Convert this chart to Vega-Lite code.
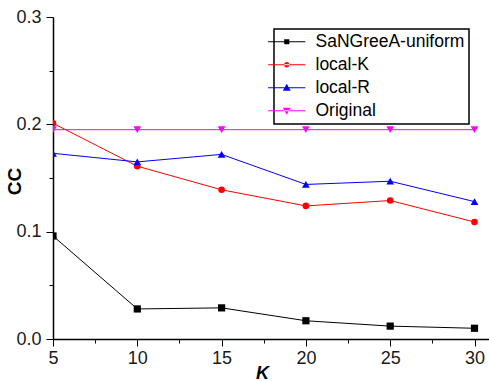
{
  "$schema": "https://vega.github.io/schema/vega-lite/v6.json",
  "width": 436,
  "height": 322,
  "autosize": "none",
  "padding": {"left": 53, "top": 17, "right": 0, "bottom": 43},
  "background": "white",
  "config": {"view": {"stroke": null}, "font": "Liberation Sans"},
  "data": {
    "values": [
      {"series": "SaNGreeA-uniform", "k": 5, "cc": 0.096},
      {"series": "SaNGreeA-uniform", "k": 10, "cc": 0.028},
      {"series": "SaNGreeA-uniform", "k": 15, "cc": 0.029},
      {"series": "SaNGreeA-uniform", "k": 20, "cc": 0.017},
      {"series": "SaNGreeA-uniform", "k": 25, "cc": 0.012},
      {"series": "SaNGreeA-uniform", "k": 30, "cc": 0.010},
      {"series": "local-K", "k": 5, "cc": 0.201},
      {"series": "local-K", "k": 10, "cc": 0.161},
      {"series": "local-K", "k": 15, "cc": 0.139},
      {"series": "local-K", "k": 20, "cc": 0.124},
      {"series": "local-K", "k": 25, "cc": 0.129},
      {"series": "local-K", "k": 30, "cc": 0.109},
      {"series": "local-R", "k": 5, "cc": 0.173},
      {"series": "local-R", "k": 10, "cc": 0.165},
      {"series": "local-R", "k": 15, "cc": 0.172},
      {"series": "local-R", "k": 20, "cc": 0.144},
      {"series": "local-R", "k": 25, "cc": 0.147},
      {"series": "local-R", "k": 30, "cc": 0.128},
      {"series": "Original", "k": 5, "cc": 0.195},
      {"series": "Original", "k": 10, "cc": 0.195},
      {"series": "Original", "k": 15, "cc": 0.195},
      {"series": "Original", "k": 20, "cc": 0.195},
      {"series": "Original", "k": 25, "cc": 0.195},
      {"series": "Original", "k": 30, "cc": 0.195}
    ]
  },
  "encoding": {
    "x": {
      "field": "k",
      "type": "quantitative",
      "scale": {"domain": [5, 30.86], "nice": false, "zero": false},
      "axis": {
        "values": [5, 7.5, 10, 12.5, 15, 17.5, 20, 22.5, 25, 27.5, 30],
        "labelExpr": "datum.value % 5 == 0 ? datum.label : ''",
        "tickSize": {"condition": {"test": "datum.value % 5 == 0", "value": 7}, "value": 4},
        "grid": false,
        "domainColor": "#000",
        "domainWidth": 1.5,
        "tickColor": "#000",
        "tickWidth": 1,
        "labelFont": "Liberation Sans",
        "labelFontSize": 18,
        "labelColor": "#1a1a1a",
        "labelPadding": 3,
        "labelFlush": false,
        "title": "K",
        "titleFont": "Liberation Sans",
        "titleFontSize": 18,
        "titleFontWeight": "bold",
        "titleFontStyle": "italic",
        "titleColor": "#000",
        "titleX": 209,
        "titleY": 39,
        "titleBaseline": "alphabetic",
        "titleAlign": "center"
      }
    },
    "y": {
      "field": "cc",
      "type": "quantitative",
      "scale": {"domain": [0, 0.3], "nice": false},
      "axis": {
        "values": [0, 0.05, 0.1, 0.15, 0.2, 0.25, 0.3],
        "labelExpr": "abs(datum.value * 10 - round(datum.value * 10)) < 0.001 ? format(datum.value, '.1f') : ''",
        "tickSize": {"condition": {"test": "abs(datum.value * 10 - round(datum.value * 10)) < 0.001", "value": 7}, "value": 4},
        "grid": false,
        "domainColor": "#000",
        "domainWidth": 1.5,
        "tickColor": "#000",
        "tickWidth": 1,
        "labelFont": "Liberation Sans",
        "labelFontSize": 18,
        "labelColor": "#1a1a1a",
        "labelPadding": 5,
        "labelFlush": false,
        "title": "CC",
        "titleFont": "Liberation Sans",
        "titleFontSize": 19,
        "titleFontWeight": "bold",
        "titleColor": "#000",
        "titleX": -29,
        "titleY": 164,
        "titleAngle": 270,
        "titleBaseline": "bottom",
        "titleAlign": "center"
      }
    }
  },
  "layer": [
    {
      "mark": {"type": "line", "strokeWidth": 1, "clip": true},
      "encoding": {
        "color": {
          "field": "series",
          "type": "nominal",
          "scale": {
            "domain": ["SaNGreeA-uniform", "local-K", "local-R", "Original"],
            "range": ["#000000", "#ff0000", "#0000ff", "#ff00ff"]
          }
        }
      }
    },
    {
      "mark": {"type": "point", "filled": true, "opacity": 1, "clip": true},
      "encoding": {
        "color": {"field": "series", "type": "nominal"},
        "shape": {
          "condition": [
            {"test": "datum.series == 'local-K'", "value": "circle"},
            {"test": "datum.series == 'local-R'", "value": "triangle-up"},
            {"test": "datum.series == 'Original'", "value": "triangle-down"}
          ],
          "value": "square"
        },
        "size": {
          "condition": [
            {"test": "datum.series == 'local-K'", "value": 44},
            {"test": "datum.series == 'SaNGreeA-uniform'", "value": 52}
          ],
          "value": 60
        }
      }
    },
    {
      "mark": {"type": "point", "filled": true, "opacity": 0, "size": 36},
      "encoding": {
        "color": {
          "field": "series",
          "type": "nominal",
          "legend": {
            "orient": "none",
            "legendX": 221,
            "legendY": 12,
            "title": null,
            "symbolSize": 36,
            "labelFont": "Liberation Sans",
            "labelFontSize": 17.5,
            "labelColor": "#000",
            "labelOffset": 20,
            "rowPadding": 4,
            "padding": 4,
            "strokeColor": "#000",
            "fillColor": "white",
            "encode": {
              "legend": {"update": {"strokeWidth": {"value": 1.5}}},
              "symbols": {"update": {"opacity": {"value": 1}, "strokeWidth": {"value": 0}}}
            }
          }
        },
        "shape": {
          "field": "series",
          "type": "nominal",
          "scale": {
            "domain": ["SaNGreeA-uniform", "local-K", "local-R", "Original"],
            "range": [
              "M-6.2,-0.17H6.2V0.17H-6.2Z M-0.85,-0.85H0.85V0.85H-0.85Z",
              "M-6.2,-0.17H6.2V0.17H-6.2Z M-0.9,0A0.9,0.9 0 1,0 0.9,0A0.9,0.9 0 1,0 -0.9,0Z",
              "M-6.2,-0.17H6.2V0.17H-6.2Z M-1.3,1L0,-1.3L1.3,1Z",
              "M-6.2,-0.17H6.2V0.17H-6.2Z M-1.3,-1L0,1.3L1.3,-1Z"
            ]
          },
          "legend": {
            "orient": "none",
            "legendX": 221,
            "legendY": 12,
            "title": null,
            "symbolSize": 36,
            "labelFont": "Liberation Sans",
            "labelFontSize": 17.5,
            "labelColor": "#000",
            "labelOffset": 20,
            "rowPadding": 4,
            "padding": 4,
            "strokeColor": "#000",
            "fillColor": "white",
            "encode": {
              "legend": {"update": {"strokeWidth": {"value": 1.5}}},
              "symbols": {"update": {"opacity": {"value": 1}, "strokeWidth": {"value": 0}}}
            }
          }
        }
      }
    }
  ]
}
